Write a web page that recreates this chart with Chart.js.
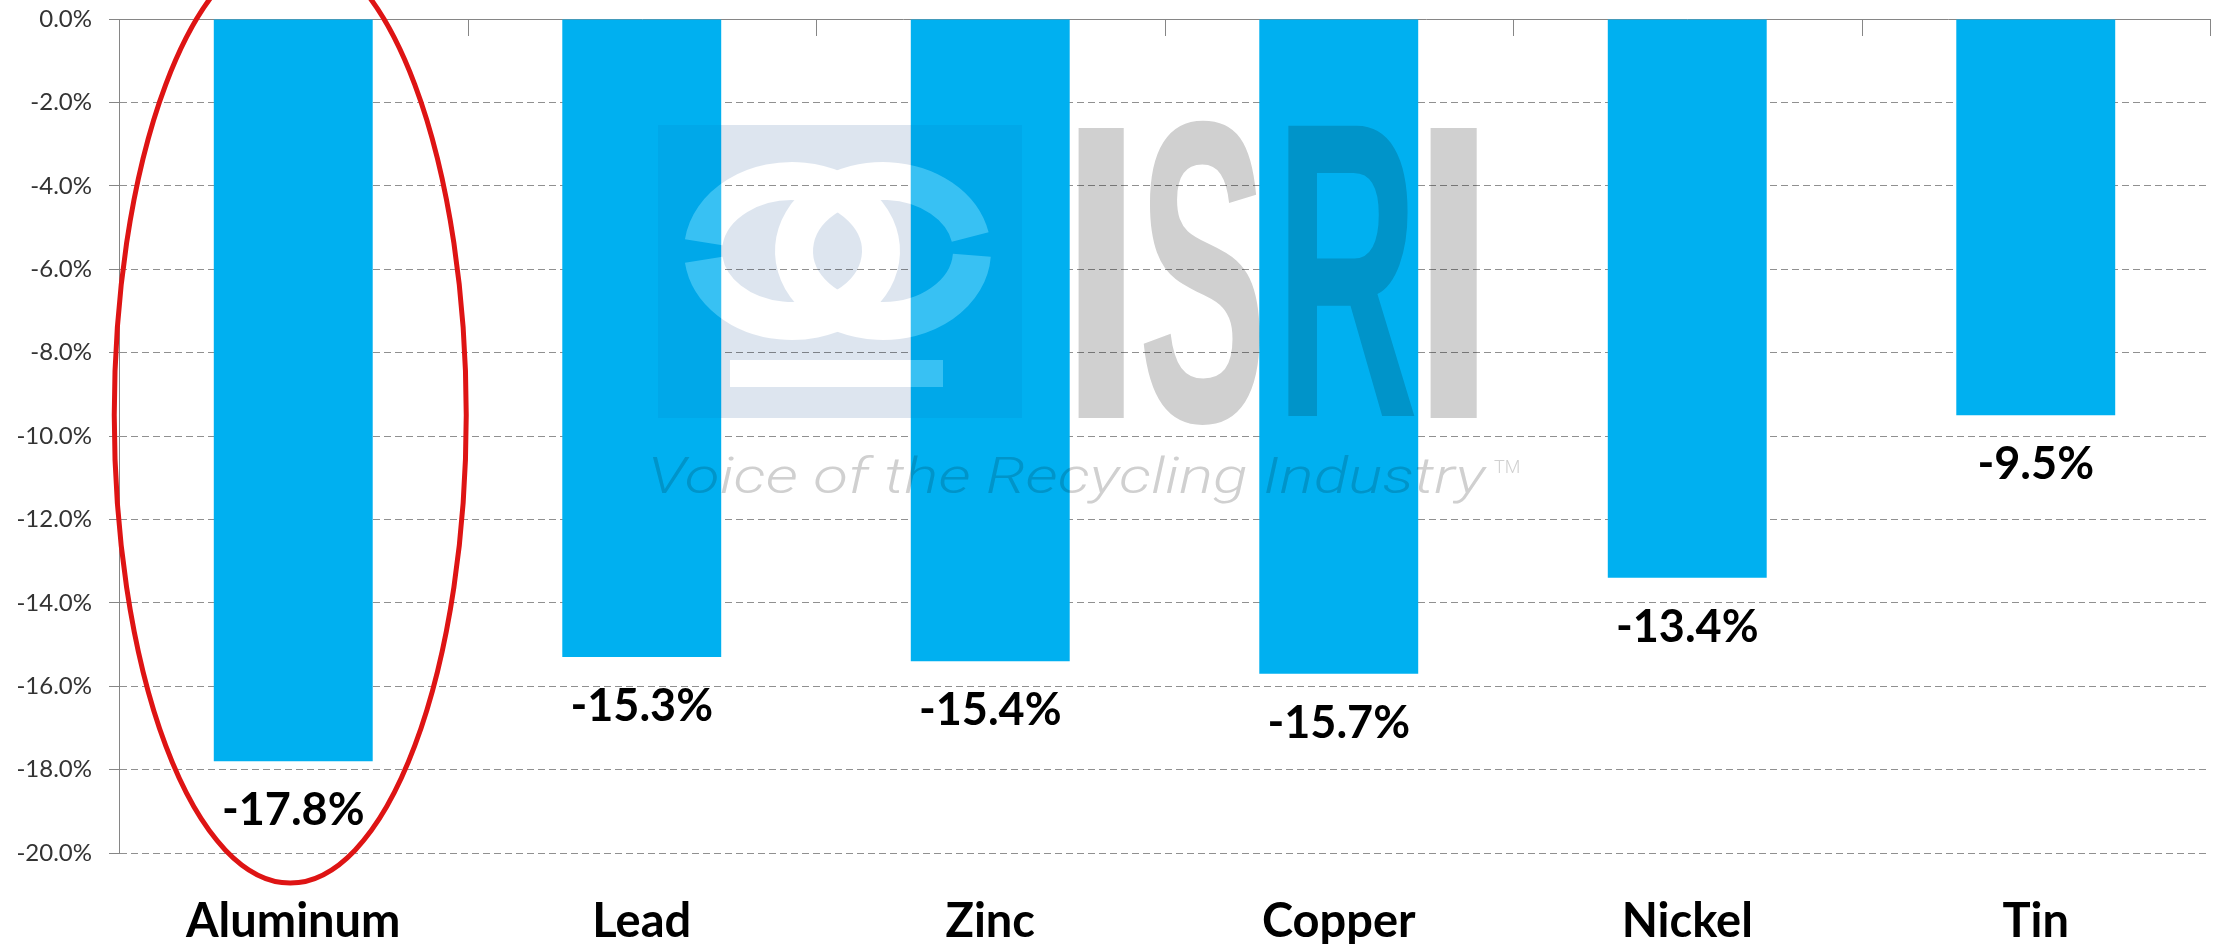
<!DOCTYPE html>
<html>
<head>
<meta charset="utf-8">
<script src="https://cdn.jsdelivr.net/npm/chart.js@4.4.1/dist/chart.umd.min.js"></script>
<style>
  html, body { margin: 0; padding: 0; background: #ffffff; }
  #wrap { position: relative; width: 2216px; height: 944px; }
</style>
</head>
<body>
<div id="wrap"><canvas id="c"></canvas></div>
<script>
// ---- data ----
const categories = ['Aluminum', 'Lead', 'Zinc', 'Copper', 'Nickel', 'Tin'];
const changes = [-17.8, -15.3, -15.4, -15.7, -13.4, -9.5];
const yMin = -20.0;
const yMax = 0.0;
const yStep = 2.0;
const highlightIndex = 0; // Aluminum is circled

const BAR_COLOR = '#00B0F0';
const AXIS_COLOR = '#868686';
const GRID_COLOR = '#909090';
const FONT = 'Lato, "Open Sans", sans-serif';

const fmtPct = v => v.toFixed(1) + '%';

// ---- watermark (ISRI logo) ----
const rings = [
  {cx: 792, cy: 251, a0: Math.PI * 1.04, a1: Math.PI * 2.96},
  {cx: 883, cy: 251, a0: 0.06, a1: Math.PI * 2 - 0.2}
];
function cutShapes(c, mode, style) {
  c.save();
  c.globalCompositeOperation = mode;
  c.strokeStyle = style; c.fillStyle = style;
  c.lineWidth = 38; c.lineCap = 'butt';
  rings.forEach(r => {
    c.beginPath();
    c.ellipse(r.cx, r.cy, 89, 70, 0, r.a0, r.a1);
    c.stroke();
  });
  c.fillRect(730, 360, 213, 27);
  c.restore();
}
function buildWatermark(w, h, squareColor, inkColor) {
  const off = document.createElement('canvas');
  off.width = w; off.height = h;
  const o = off.getContext('2d');
  o.fillStyle = squareColor;
  o.fillRect(658, 125, 364, 293);
  cutShapes(o, 'destination-out', '#000');

  o.fillStyle = inkColor;
  const letters = [
    {ch: 'I', x0: 1078, x1: 1125, y0: 125, y1: 418},
    {ch: 'S', x0: 1143, x1: 1260, y0: 120, y1: 425},
    {ch: 'R', x0: 1288, x1: 1415, y0: 125, y1: 418},
    {ch: 'I', x0: 1430, x1: 1478, y0: 125, y1: 418}
  ];
  o.font = 'bold 200px "Liberation Sans Narrow", "Liberation Sans", sans-serif';
  o.textBaseline = 'alphabetic'; o.textAlign = 'left';
  letters.forEach(L => {
    const m = o.measureText(L.ch);
    const gw = m.actualBoundingBoxLeft + m.actualBoundingBoxRight;
    const gh = m.actualBoundingBoxAscent + m.actualBoundingBoxDescent;
    o.save();
    o.translate(L.x0, L.y0);
    o.scale((L.x1 - L.x0) / gw, (L.y1 - L.y0) / gh);
    o.fillText(L.ch, m.actualBoundingBoxLeft, m.actualBoundingBoxAscent);
    o.restore();
  });

  const tag = 'Voice of the Recycling Industry';
  o.font = 'italic 300 100px Roboto, "DejaVu Sans", sans-serif';
  const tm = o.measureText(tag);
  const vm = o.measureText('V');
  const tw = tm.actualBoundingBoxLeft + tm.actualBoundingBoxRight;
  const capH = vm.actualBoundingBoxAscent;
  o.save();
  o.translate(653, 493);
  o.scale((1487 - 653) / tw, 35 / capH);
  o.fillText(tag, tm.actualBoundingBoxLeft, 0);
  o.restore();
  o.font = '300 18px Roboto, "DejaVu Sans", sans-serif';
  o.textBaseline = 'top';
  o.fillText('TM', 1494, 459);
  return off;
}
let wmPlain = null, wmOnBars = null;

function barClip(chart, ctx) {
  const meta = chart.getDatasetMeta(0);
  ctx.beginPath();
  meta.data.forEach(b => {
    const top = Math.min(b.y, b.base), h = Math.abs(b.y - b.base);
    ctx.rect(b.x - b.width / 2, top, b.width, h);
  });
  ctx.clip();
}

const overlayPlugin = {
  id: 'overlay',
  beforeDatasetsDraw(chart) {
    const cv = chart.canvas;
    if (!wmPlain) {
      wmPlain = buildWatermark(cv.width, cv.height, 'rgb(221,229,239)', 'rgb(208,208,208)');
      wmOnBars = buildWatermark(cv.width, cv.height, 'rgb(240,243,248)', 'rgb(214,214,214)');
    }
    const ctx = chart.ctx;
    ctx.save();
    ctx.setTransform(1, 0, 0, 1, 0, 0);
    ctx.globalCompositeOperation = 'multiply';
    ctx.drawImage(wmPlain, 0, 0);
    ctx.restore();
  },
  afterDatasetsDraw(chart) {
    const ctx = chart.ctx;
    // watermark over the bars
    ctx.save();
    ctx.setTransform(1, 0, 0, 1, 0, 0);
    barClip(chart, ctx);
    ctx.globalCompositeOperation = 'multiply';
    ctx.drawImage(wmOnBars, 0, 0);
    ctx.globalCompositeOperation = 'source-over';
    cutShapes(ctx, 'source-over', 'rgba(255,255,255,0.22)');
    ctx.restore();

    // data labels under each bar end
    const meta = chart.getDatasetMeta(0);
    ctx.save();
    ctx.font = 'bold 45px ' + FONT;
    ctx.fillStyle = '#000000';
    ctx.textAlign = 'center';
    ctx.textBaseline = 'alphabetic';
    meta.data.forEach((bar, i) => {
      ctx.fillText(fmtPct(changes[i]), bar.x, bar.y + 64);
    });
    ctx.restore();
  },
  afterDraw(chart) {
    const ctx = chart.ctx;
    const xs = chart.scales.x, ys = chart.scales.y;
    // tick marks on the zero (category) axis, between categories
    ctx.save();
    ctx.strokeStyle = AXIS_COLOR;
    ctx.lineWidth = 1;
    const top = ys.getPixelForValue(0);
    for (let i = 0; i <= categories.length; i++) {
      const x = Math.round(xs.getPixelForValue(i - 0.5)) + 0.5;
      ctx.beginPath();
      ctx.moveTo(x, top);
      ctx.lineTo(x, top + 17);
      ctx.stroke();
    }
    ctx.restore();
    // red ellipse around the highlighted bar
    const cw = (xs.right - xs.left) / categories.length;
    const cx = xs.getPixelForValue(highlightIndex) - 3;
    const cy = ys.getPixelForValue(-9.5);
    const rx = cw * 0.505;
    const ry = (ys.bottom - ys.top) * 0.561;
    ctx.save();
    ctx.strokeStyle = 'rgb(222,20,20)';
    ctx.lineWidth = 5;
    ctx.beginPath();
    ctx.ellipse(cx, cy, rx, ry, 0, 0, Math.PI * 2);
    ctx.stroke();
    ctx.restore();
  }
};

new Chart(document.getElementById('c'), {
  type: 'bar',
  data: {
    labels: categories,
    datasets: [{
      data: changes,
      backgroundColor: BAR_COLOR,
      borderWidth: 0,
      categoryPercentage: 1.0,
      barPercentage: 0.456
    }]
  },
  options: {
    responsive: true,
    maintainAspectRatio: false,
    animation: false,
    layout: { padding: { top: 19, right: 6, left: 0, bottom: 0 } },
    plugins: { legend: { display: false }, tooltip: { enabled: false } },
    scales: {
      x: {
        position: 'bottom',
        grid: { display: false, drawTicks: false },
        border: { display: false },
        ticks: {
          font: { family: FONT, size: 47, weight: 'bold' },
          color: '#000000',
          padding: 41,
          maxRotation: 0,
          autoSkip: false
        },
        afterFit: s => { s.height = 91; }
      },
      y: {
        min: yMin,
        max: yMax,
        ticks: {
          stepSize: yStep,
          font: { family: FONT, size: 24, lineHeight: 0.1 },
          color: '#333333',
          padding: 17,
          callback: v => fmtPct(v)
        },
        grid: {
          color: c => (c.tick && c.tick.value === 0) ? AXIS_COLOR : GRID_COLOR,
          lineWidth: 1,
          drawTicks: true,
          tickLength: 10,
          tickColor: AXIS_COLOR
        },
        border: {
          display: true,
          color: AXIS_COLOR,
          width: 1,
          dash: c => (c.tick && c.tick.value === 0) ? [] : [7, 4]
        },
        afterFit: s => { s.width = 119; }
      }
    }
  },
  plugins: [overlayPlugin]
});
</script>
</body>
</html>
